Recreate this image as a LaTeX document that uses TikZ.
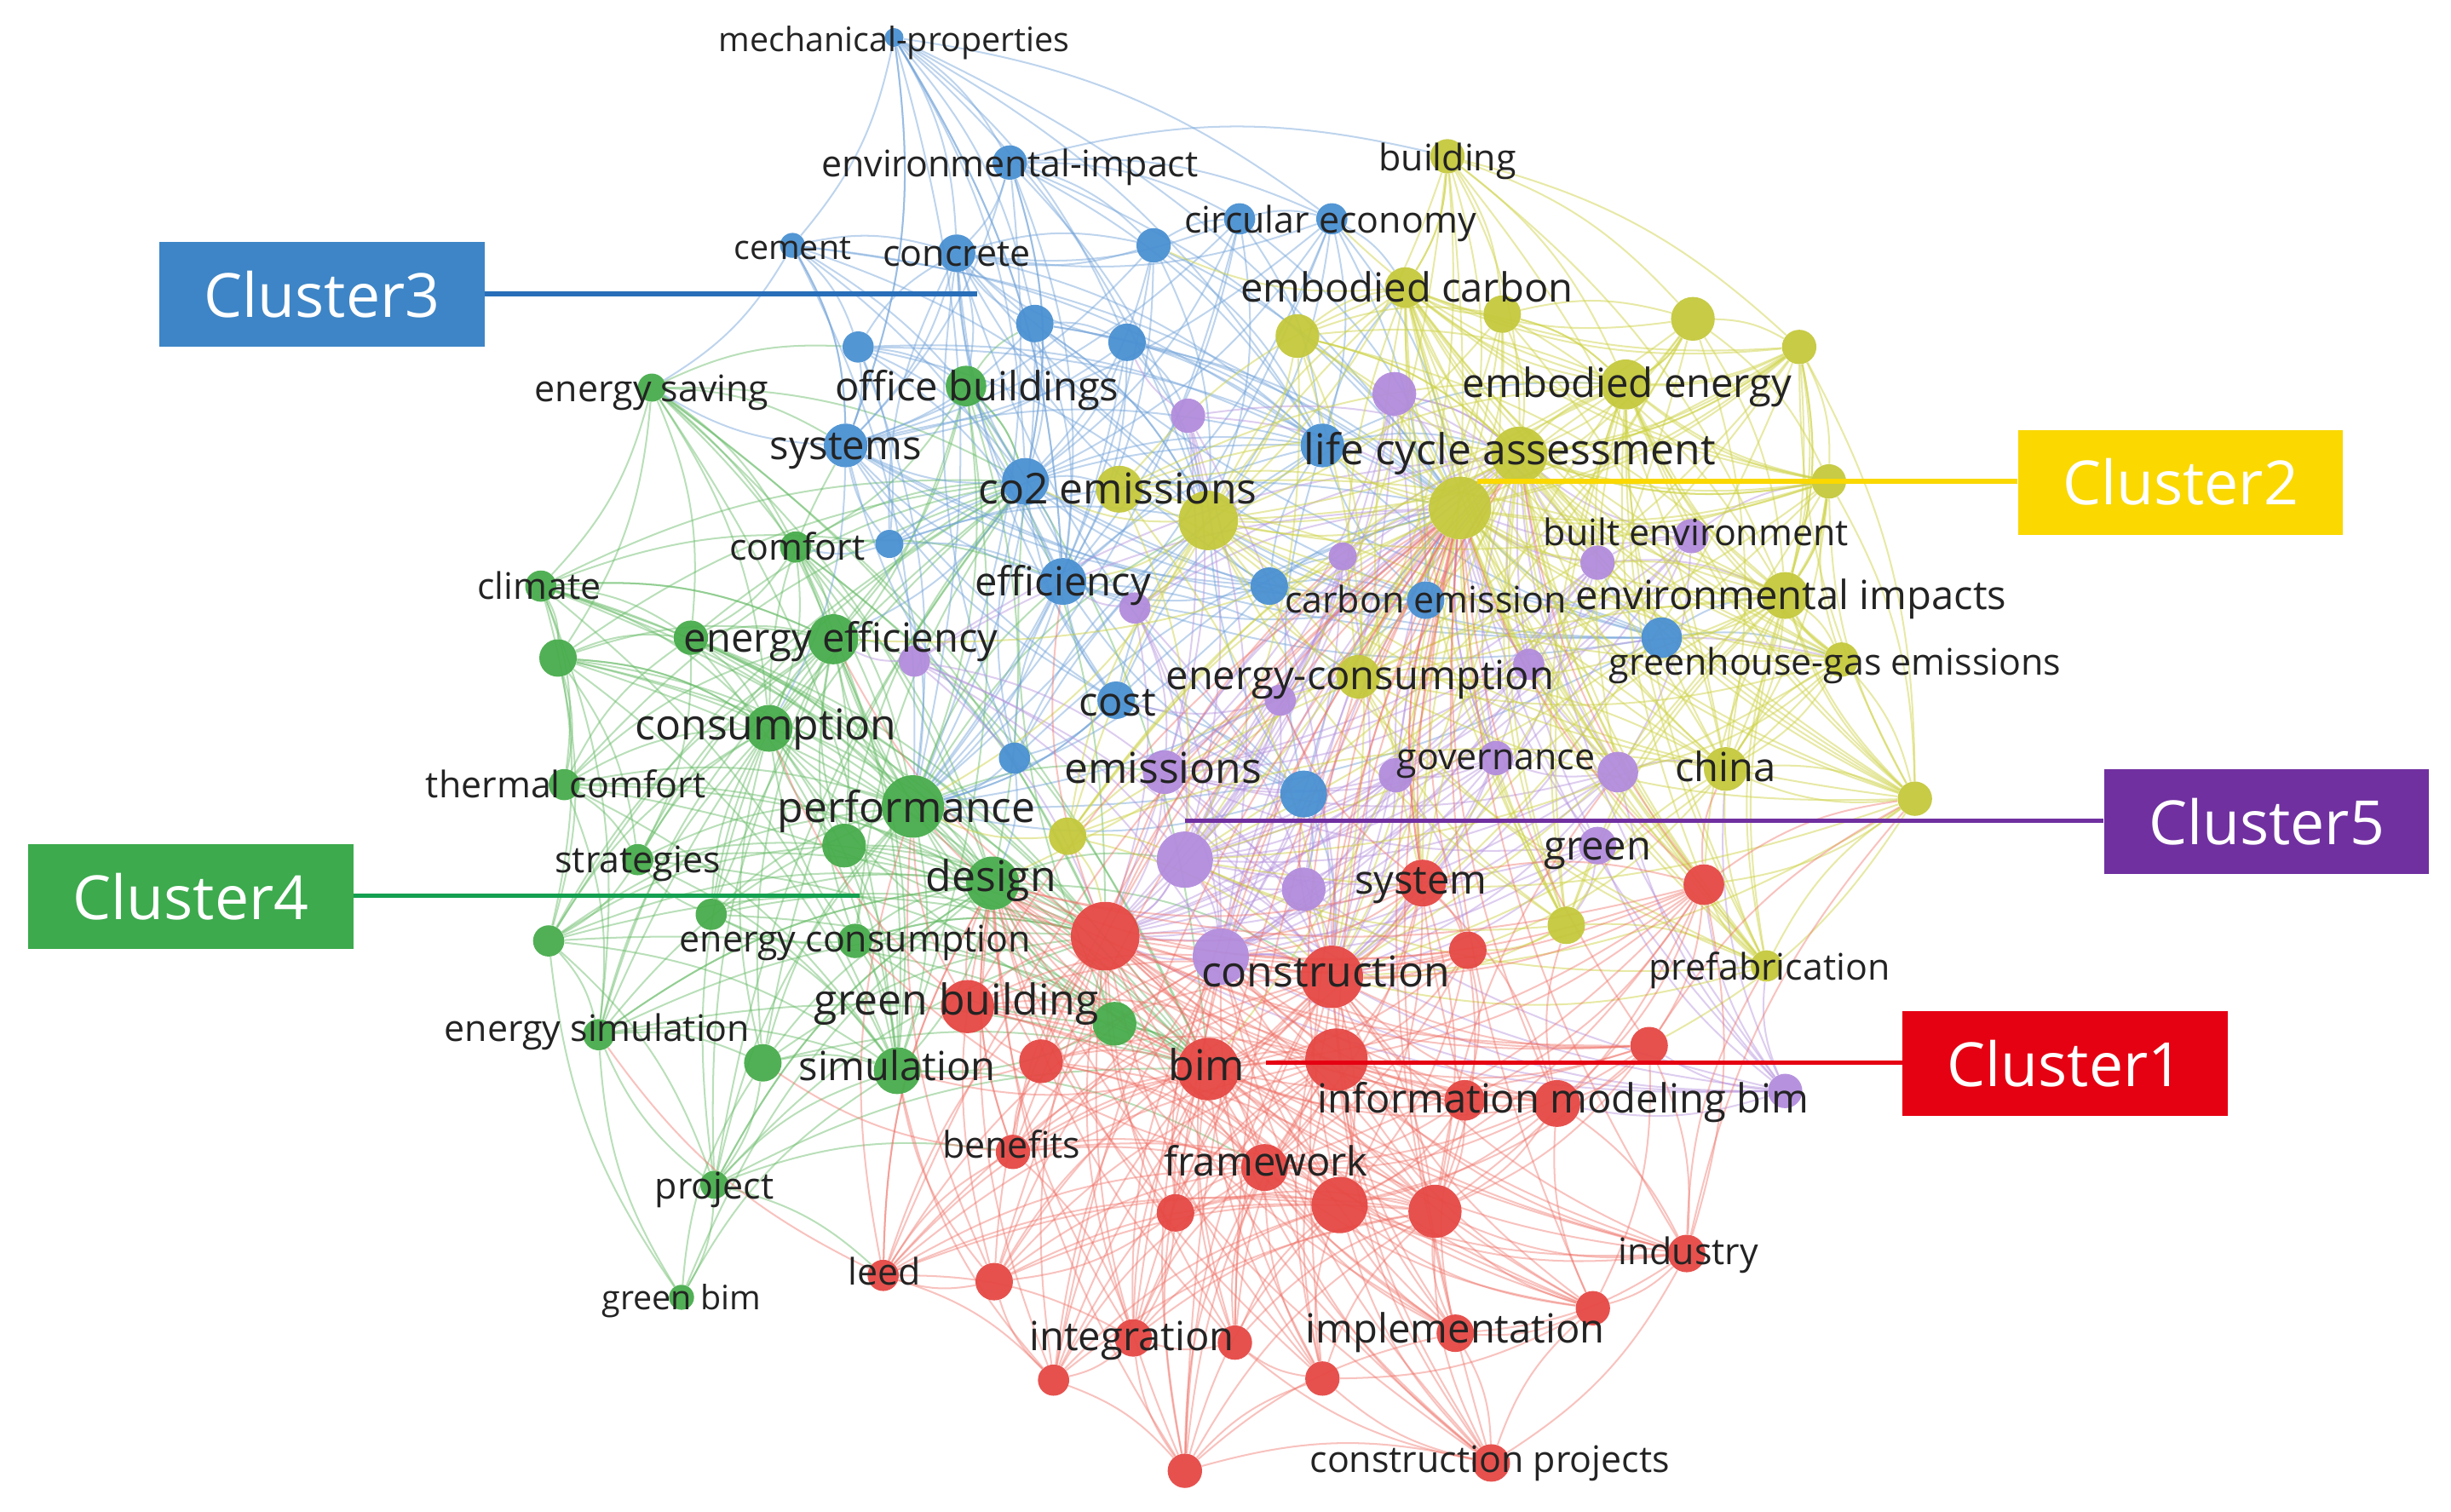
\documentclass[tikz,border=0pt]{standalone}
\usepackage{fontspec}
\setmainfont{Open Sans}
\usetikzlibrary{backgrounds}
\definecolor{nR}{RGB}{229,72,68}
\definecolor{nY}{RGB}{196,200,60}
\definecolor{nB}{RGB}{74,144,210}
\definecolor{nG}{RGB}{72,172,76}
\definecolor{nP}{RGB}{178,140,220}
\definecolor{edR}{RGB}{238,110,100}
\definecolor{edY}{RGB}{205,210,70}
\definecolor{edB}{RGB}{110,160,215}
\definecolor{edG}{RGB}{100,185,100}
\definecolor{edP}{RGB}{180,145,220}
\definecolor{labc}{RGB}{35,35,35}
\definecolor{k1}{RGB}{229,0,18}
\definecolor{k2}{RGB}{250,216,0}
\definecolor{k3}{RGB}{61,133,198}
\definecolor{k3l}{RGB}{40,110,185}
\definecolor{k4}{RGB}{60,170,77}
\definecolor{k4l}{RGB}{20,160,80}
\definecolor{k5}{RGB}{112,48,160}
\newcommand\nd[5]{\node[dot, fill=#5, minimum size=#4pt] (#1) at (#2,#3) {};}
\tikzset{
  dot/.style={circle, inner sep=0pt, draw=none, fill opacity=0.95},
  lbl/.style={inner sep=0pt, text=labc, text height=0.75em, text depth=0.12em, yshift=-6pt},
  fS/.style={lbl, font=\fontsize{21.5}{24}\selectfont},
  fM/.style={lbl, font=\fontsize{23.4}{26}\selectfont},
  fL/.style={lbl, font=\fontsize{25.7}{28}\selectfont},
  fX/.style={lbl, font=\fontsize{27.2}{30}\selectfont},
  eR/.style={draw=edR, draw opacity=0.42, line width=1.1pt},
  eY/.style={draw=edY, draw opacity=0.48, line width=1.1pt},
  eB/.style={draw=edB, draw opacity=0.45, line width=1.1pt},
  eG/.style={draw=edG, draw opacity=0.45, line width=1.1pt},
  eP/.style={draw=edP, draw opacity=0.45, line width=1.1pt},
  cbox/.style={inner sep=0pt, minimum width=208pt, minimum height=67pt, text=white, font=\fontsize{39}{44}\selectfont},
  cline/.style={line width=3pt}
}
\begin{document}
\begin{tikzpicture}[x=1pt,y=-1pt]
\useasboundingbox (0,0) rectangle (1568,967);
% ---------- blue nodes
\nd{b1}{572}{24}{12}{nB}
\nd{b2}{646}{104}{22}{nB}
\nd{b3}{507}{157}{16}{nB}
\nd{b4}{612}{162}{24}{nB}
\nd{b5}{738}{157}{22}{nB}
\nd{b6}{793}{140}{20}{nB}
\nd{b7}{852}{140}{20}{nB}
\nd{b8}{662}{207}{24}{nB}
\nd{b9}{721}{219}{24}{nB}
\nd{b10}{549}{222}{20}{nB}
\nd{b11}{541}{285}{28}{nB}
\nd{b12}{656}{308}{30}{nB}
\nd{b13}{846}{285}{28}{nB}
\nd{b14}{569}{348}{18}{nB}
\nd{b15}{680}{372}{30}{nB}
\nd{b16}{812}{375}{24}{nB}
\nd{b17}{912}{384}{24}{nB}
\nd{b18}{1063}{408}{26}{nB}
\nd{b19}{714}{448}{24}{nB}
\nd{b20}{649}{485}{20}{nB}
\nd{b21}{834}{508}{30}{nB}
% ---------- yellow nodes
\nd{y1}{926}{100}{22}{nY}
\nd{y2}{899}{184}{26}{nY}
\nd{y3}{830}{215}{28}{nY}
\nd{y4}{961}{201}{24}{nY}
\nd{y5}{1083}{204}{28}{nY}
\nd{y6}{1151}{222}{22}{nY}
\nd{y7}{1040}{246}{32}{nY}
\nd{y8}{1170}{308}{22}{nY}
\nd{y9}{972}{291}{36}{nY}
\nd{y10}{934}{325}{40}{nY}
\nd{y11}{773}{333}{38}{nY}
\nd{y11b}{716}{313}{30}{nY}
\nd{y12}{1142}{381}{30}{nY}
\nd{y13}{1178}{422}{22}{nY}
\nd{y14}{869}{433}{28}{nY}
\nd{y15}{1104}{492}{28}{nY}
\nd{y16}{1225}{511}{22}{nY}
\nd{y17}{683}{535}{24}{nY}
\nd{y18}{1002}{592}{24}{nY}
\nd{y19}{1130}{618}{20}{nY}
% ---------- purple nodes
\nd{p1}{760}{266}{22}{nP}
\nd{p2}{892}{252}{28}{nP}
\nd{p3}{859}{356}{18}{nP}
\nd{p4}{726}{389}{20}{nP}
\nd{p5}{585}{423}{20}{nP}
\nd{p6}{819}{448}{20}{nP}
\nd{p7}{978}{425}{20}{nP}
\nd{p8}{957}{485}{22}{nP}
\nd{p9}{893}{496}{22}{nP}
\nd{p10}{1035}{494}{26}{nP}
\nd{p11}{745}{494}{28}{nP}
\nd{p12}{758}{550}{36}{nP}
\nd{p13}{834}{569}{28}{nP}
\nd{p14}{781}{612}{36}{nP}
\nd{p15}{1142}{698}{22}{nP}
\nd{p16}{1022}{360}{22}{nP}
\nd{p17}{1082}{343}{22}{nP}
\nd{p18}{1022}{541}{24}{nP}
% ---------- red nodes
\nd{r1}{707}{599}{44}{nR}
\nd{r2}{910}{565}{30}{nR}
\nd{r3}{1090}{566}{26}{nR}
\nd{r4}{939}{608}{24}{nR}
\nd{r5}{852}{625}{40}{nR}
\nd{r6}{1055}{669}{24}{nR}
\nd{r7}{773}{684}{40}{nR}
\nd{r8}{855}{678}{40}{nR}
\nd{r9}{666}{679}{28}{nR}
\nd{r10}{937}{704}{26}{nR}
\nd{r11}{996}{706}{30}{nR}
\nd{r12}{648}{737}{22}{nR}
\nd{r13}{809}{747}{30}{nR}
\nd{r14}{857}{771}{36}{nR}
\nd{r15}{918}{775}{34}{nR}
\nd{r16}{752}{776}{24}{nR}
\nd{r17}{1079}{802}{24}{nR}
\nd{r18}{565}{816}{20}{nR}
\nd{r19}{636}{820}{24}{nR}
\nd{r20}{1019}{837}{22}{nR}
\nd{r21}{725}{856}{24}{nR}
\nd{r22}{790}{859}{22}{nR}
\nd{r23}{931}{853}{24}{nR}
\nd{r24}{674}{883}{20}{nR}
\nd{r25}{846}{882}{22}{nR}
\nd{r26}{954}{936}{24}{nR}
\nd{r27}{758}{941}{22}{nR}
\nd{r28}{619}{644}{34}{nR}
% ---------- green nodes
\nd{g1}{417}{248}{18}{nG}
\nd{g2}{618}{247}{26}{nG}
\nd{g3}{346}{375}{20}{nG}
\nd{g4}{509}{350}{20}{nG}
\nd{g5}{442}{408}{22}{nG}
\nd{g6}{533}{409}{32}{nG}
\nd{g7}{357}{421}{24}{nG}
\nd{g8}{492}{466}{30}{nG}
\nd{g9}{361}{502}{20}{nG}
\nd{g10}{584}{516}{40}{nG}
\nd{g11}{540}{541}{28}{nG}
\nd{g12}{408}{550}{20}{nG}
\nd{g13}{635}{565}{34}{nG}
\nd{g14}{351}{602}{20}{nG}
\nd{g15}{455}{585}{20}{nG}
\nd{g16}{547}{602}{22}{nG}
\nd{g17}{713}{655}{28}{nG}
\nd{g18}{383}{662}{20}{nG}
\nd{g19}{488}{680}{24}{nG}
\nd{g20}{574}{685}{30}{nG}
\nd{g21}{457}{758}{18}{nG}
\nd{g22}{436}{830}{16}{nG}
% ---------- edges
\begin{pgfonlayer}{background}
% green
\foreach \a in {g1,g2,g3,g4,g5,g7,g9,g11,g12,g14,g15,g16,g17,g18,g19,g21}{
  \foreach \h in {g10,g13,g8,g6,g20}{\draw[eG] (\a) to[bend left=14] (\h);}}
\foreach \a in {g1,g2,g3,g4,g5,g7,g9,g11,g12,g14,g15,g16,g17,g18,g19,g21}{
  \foreach \h in {r1,r7,b12}{\draw[eG] (\a) to[bend left=14] (\h);}}
\foreach \a/\b in {g10/g13,g10/g8,g10/g6,g10/g20,g13/g8,g13/g6,g13/g20,g8/g6,g8/g20,g6/g20,
  g3/g7,g3/g5,g7/g9,g9/g12,g12/g14,g14/g18,g18/g19,g19/g21,g21/g22,g22/g18,g22/g20,g22/g19,
  g1/g3,g1/g5,g1/g4,g4/g5,g2/g4,g7/g5,g15/g12,g16/g15,g17/g16,g21/g18,g7/g14,g3/g9,g22/g13,
  g10/b15,g6/b12,g13/r5,g8/b11,g2/b12,g10/y11,g13/p12,g17/r7,g16/r1,g20/r13,g1/b11,g3/b14,
  g4/b15,g10/p11,g6/p5,g2/b8,g1/b10,g3/g6,g7/g8,g14/g11,g18/g13,g21/g13,g9/g5,
  g3/g14,g3/g18,g7/g12,g1/g7,g9/g18,g14/g21,g5/g12,g4/g11,g22/g14,g21/r18,g21/r12}
  {\draw[eG] (\a) to[bend left=14] (\b);}
% blue
\foreach \a in {b1,b2,b3,b5,b6,b7,b8,b9,b10,b14,b16,b17,b18,b19,b20,b21}{
  \foreach \h in {b12,b15,b4,b11,b13}{\draw[eB] (\a) to[bend left=14] (\h);}}
\foreach \a in {b1,b2,b3,b5,b6,b7,b8,b9,b10,b14,b16,b17,b18,b19,b20,b21}{
  \foreach \h in {g10,y10,y11}{\draw[eB] (\a) to[bend left=14] (\h);}}
\foreach \a/\b in {b12/b15,b12/b4,b12/b11,b12/b13,b15/b4,b15/b11,b15/b13,b4/b11,b4/b13,b11/b13,
  b1/b2,b1/b3,b1/b8,b1/b9,b2/b5,b2/b6,b3/b10,b5/b6,b6/b7,b7/b17,b8/b9,b16/b17,b17/b18,b19/b20,
  b19/b21,b10/b14,b12/g6,b15/g10,b11/g8,b4/g2,b12/y11b,b15/y14,b13/y9,b17/y10,b21/r5,b19/g10,
  b20/g13,b14/g4,b11/g1,b10/g2,b16/p3,b18/y12,b2/y1,b7/y2,b9/p1,b8/y11,b3/g1,b1/b11,b2/b12,
  b1/b15,b1/b7,b2/b7,b4/b5,b3/b11,b13/y7,b13/y2,b18/y13,b18/p16,b21/p13}
  {\draw[eB] (\a) to[bend left=14] (\b);}
% purple
\foreach \a in {p1,p2,p3,p4,p5,p6,p7,p8,p9,p10,p13,p15,p16,p17,p18}{
  \foreach \h in {p12,p14,p11}{\draw[eP] (\a) to[bend left=14] (\h);}}
\foreach \a in {p1,p2,p3,p4,p5,p6,p7,p8,p9,p10,p11,p12,p13,p14,p15,p16,p17,p18}{
  \foreach \h in {y10,y9,r1,r5}{\draw[eP] (\a) to[bend left=14] (\h);}}
\foreach \a/\b in {p12/p14,p12/p11,p11/p14,p2/p16,p16/p17,p17/p10,p10/p8,p8/p9,p9/p13,p7/p16,
  p15/p10,p3/p6,p12/r1,p14/r5,p11/y14,p2/y9,p16/y12,p10/y15,p15/r11,p15/y19,p15/r6,p15/r3,
  p13/r2,p18/y18,p8/y10,p1/b9,p6/b19,p4/b15,p5/g6,p7/y13,p9/r4,p17/y8,p15/p18,p15/y15}
  {\draw[eP] (\a) to[bend left=14] (\b);}
% yellow
\foreach \a in {y1,y3,y4,y5,y6,y8,y11b,y12,y13,y14,y15,y16,y17,y18,y19}{
  \foreach \h in {y9,y10,y11,y7,y2}{\draw[eY] (\a) to[bend left=14] (\h);}}
\foreach \a in {y1,y3,y4,y5,y6,y8,y11b,y13,y16,y17,y18,y19}{
  \foreach \h in {y12,y14,y15,r5,p12}{\draw[eY] (\a) to[bend left=14] (\h);}}
\foreach \a in {y9,y10,y7,y2,y12}{
  \foreach \h in {y13,y16,y19,y18,y8,y6,p10,p16,r2,r3}{\draw[eY] (\a) to[bend right=12] (\h);}}
\foreach \a/\b in {y9/y10,y9/y7,y9/y2,y9/y11,y10/y11,y10/y7,y10/y2,y7/y2,y11/y2,y11/y7,
  y5/y6,y5/y7,y6/y8,y8/y12,y12/y13,y13/y16,y15/y16,y16/y8,y1/y4,y3/y4,y4/y5,y12/y15,y18/y19,
  y19/y16,y14/y15,y6/y12,y10/b13,y9/b17,y11/b12,y11/b15,y10/p2,y9/p16,y7/b7,y2/b5,y14/r2,
  y10/g6,y11/g10,y12/b18,y15/r4,y16/r3,y10/r7,y9/g13,y13/p10,y11/p4,y8/y16,y1/y2,y16/y6,
  y13/y8,y19/r3,y16/r6,y15/y13,y17/g10,y17/r1,y18/r4,y8/y9,y6/y9,y12/y14,y14/y12,y15/y12,
  y1/y5,y1/y6,y5/y8,y6/y16,y4/y7,y3/y9}
  {\draw[eY] (\a) to[bend left=14] (\b);}
% red
\foreach \a in {r2,r3,r4,r6,r9,r10,r11,r12,r16,r17,r18,r19,r20,r21,r22,r23,r24,r25,r26,r27,r28}{
  \foreach \h in {r1,r5,r7,r8,r13,r14,r15}{\draw[eR] (\a) to[bend left=14] (\h);}}
\foreach \a in {r2,r3,r4,r6,r9,r10,r11,r12,r16,r17,r18,r19,r20,r21,r22,r23,r24,r25,r26,r27,r28}{
  \foreach \h in {y10,p14,g13}{\draw[eR] (\a) to[bend left=14] (\h);}}
\foreach \a/\b in {r1/r5,r1/r7,r1/r8,r1/r13,r1/r14,r5/r7,r5/r8,r5/r13,r5/r15,r7/r8,r7/r13,
  r7/r14,r8/r14,r8/r15,r13/r14,r14/r15,r13/r15,r7/r15,r1/r15,r5/r14,r8/r13,
  r2/r4,r2/r3,r3/r6,r6/r11,r10/r11,r11/r17,r17/r20,r20/r23,r23/r26,r26/r25,r25/r22,r22/r21,
  r21/r24,r24/r27,r27/r26,r19/r18,r18/r12,r12/r9,r9/r28,r16/r21,r16/r19,r23/r10,r26/r20,
  r27/r21,r27/r25,r24/r19,r4/r10,r3/r17,r6/r17,r2/r11,r17/r26,r3/r11,r20/r11,
  r1/g10,r1/g13,r1/g6,r1/y10,r1/b15,r5/y10,r5/y9,r5/p12,r7/g20,r7/g13,r8/y9,r2/y10,r3/y9,
  r3/y15,r6/y16,r11/y18,r17/y19,r28/g8,r28/g10,r9/g20,r12/g19,r18/g18,r19/g20,r14/y14,
  r15/p10,r2/p6,r13/g16,r1/p3,r5/b21,r18/g10,r18/g13,r12/g13,r24/g20,r19/g10,r3/y16,r17/y16,
  r18/r21,r18/r24,r12/r21,r26/r22,r27/r23,r17/r23,r20/r25,r6/r20,r3/r10}
  {\draw[eR] (\a) to[bend left=14] (\b);}
\end{pgfonlayer}
% ---------- labels
\node[fS] (l-b1) at (572,24) {mechanical-properties};
\node[fM] (l-b2) at (646,104) {environmental-impact};
\node[fS] (l-b3) at (507,157) {cement};
\node[fM] (l-b4) at (612,161) {concrete};
\node[fM] (l-b7) at (851,140) {circular economy};
\node[fM] (l-y1) at (926,100) {building};
\node[fL] (l-y2) at (900,184) {embodied carbon};
\node[fM] (l-g1) at (417,248) {energy saving};
\node[fL] (l-g2) at (625,247) {office buildings};
\node[fL] (l-y7) at (1041,245) {embodied energy};
\node[fL] (l-b11) at (541,285) {systems};
\node[fX] (l-y11b) at (715,313) {co2 emissions};
\node[fX] (l-y9) at (966,288) {life cycle assessment};
\node[fM] (l-p17) at (1085,340) {built environment};
\node[fM] (l-g4) at (510,349) {comfort};
\node[fM] (l-g3) at (345,374) {climate};
\node[fL] (l-b15) at (680,372) {efficiency};
\node[fM] (l-b17) at (912,383) {carbon emission};
\node[fL] (l-y12) at (1146,381) {environmental impacts};
\node[fL] (l-g6) at (538,408) {energy efficiency};
\node[fM] (l-y13) at (1174,423) {greenhouse-gas emissions};
\node[fL] (l-y14) at (870,432) {energy-consumption};
\node[fL] (l-b19) at (715,449) {cost};
\node[fX] (l-g8) at (490,464) {consumption};
\node[fM] (l-g9) at (362,501) {thermal comfort};
\node[fX] (l-p11) at (744,492) {emissions};
\node[fM] (l-p8) at (957,483) {governance};
\node[fL] (l-y15) at (1104,491) {china};
\node[fX] (l-g10) at (580,517) {performance};
\node[fM] (l-g12) at (408,549) {strategies};
\node[fX] (l-g13) at (634,561) {design};
\node[fL] (l-p18) at (1022,541) {green};
\node[fL] (l-r2) at (909,563) {system};
\node[fM] (l-g16) at (547,600) {energy consumption};
\node[fM] (l-y19) at (1132,618) {prefabrication};
\node[fX] (l-r5) at (848,622) {construction};
\node[fX] (l-r28) at (612,640) {green building};
\node[fM] (l-g18) at (382,657) {energy simulation};
\node[fL] (l-g20) at (574,682) {simulation};
\node[fX] (l-r7) at (772,682) {bim};
\node[fL] (l-r11) at (1000,703) {information modeling bim};
\node[fM] (l-r12) at (647,732) {benefits};
\node[fL] (l-r13) at (810,743) {framework};
\node[fM] (l-g21) at (457,758) {project};
\node[fM] (l-r17) at (1080,800) {industry};
\node[fM] (l-r18) at (566,813) {leed};
\node[fS] (l-g22) at (436,829) {green bim};
\node[fL] (l-r21) at (724,855) {integration};
\node[fL] (l-r23) at (931,850) {implementation};
\node[fM] (l-r26) at (953,933) {construction projects};
% ---------- cluster callouts
\coordinate (e3) at (625,188);
\coordinate (e2) at (945,308);
\coordinate (e5) at (758,525);
\coordinate (e4) at (550,573);
\coordinate (e1) at (810,680);
\node[cbox, fill=k3] (C3) at (206,188.5) {Cluster3};
\node[cbox, fill=k2] (C2) at (1395,308.5) {Cluster2};
\node[cbox, fill=k5] (C5) at (1450,525.5) {Cluster5};
\node[cbox, fill=k4] (C4) at (122,573.5) {Cluster4};
\node[cbox, fill=k1] (C1) at (1321,680.5) {Cluster1};
\draw[cline, draw=k3l] (C3.east |- e3) -- (e3);
\draw[cline, draw=k2] (C2.west |- e2) -- (e2);
\draw[cline, draw=k5] (C5.west |- e5) -- (e5);
\draw[cline, draw=k4l] (C4.east |- e4) -- (e4);
\draw[cline, draw=k1] (C1.west |- e1) -- (e1);
\end{tikzpicture}
\end{document}
